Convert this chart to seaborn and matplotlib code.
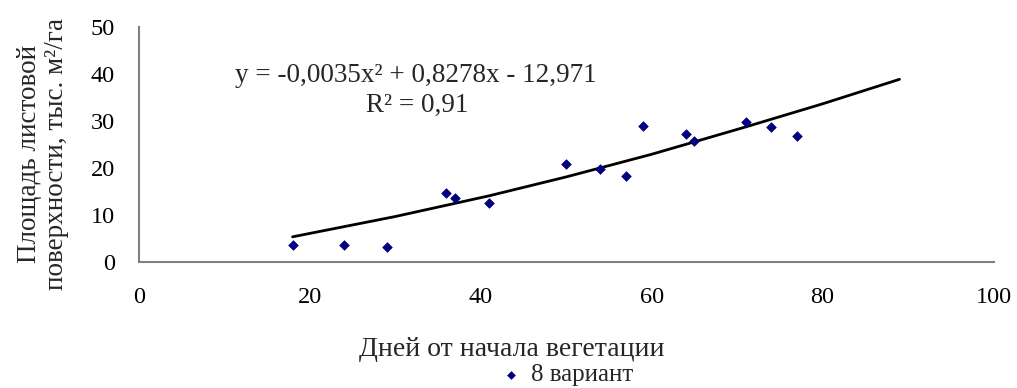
import matplotlib
matplotlib.use("Agg")
import matplotlib.pyplot as plt
import seaborn as sns
import pandas as pd

# Observations: days since start of vegetation vs leaf area
days = [18, 24, 29, 36, 37, 41, 50, 54, 57, 59, 64, 65, 71, 74, 77]
leaf_area = [3.7, 3.7, 3.3, 14.6, 13.6, 12.5, 20.8, 19.8, 18.2, 29.0, 27.3, 25.8, 29.8, 28.7, 26.7]

# Trend line as drawn on the chart
trend_days = [18, 30, 41, 50, 60, 71, 80, 89]
trend_area = [5.4, 9.7, 14.1, 18.1, 22.9, 28.7, 33.6, 38.8]

x_ticks = [0, 20, 40, 60, 80, 100]
y_ticks = [0, 10, 20, 30, 40, 50]

equation = "y = -0,0035x² + 0,8278x - 12,971"
r_squared = "R² = 0,91"
series_name = "8 вариант"

sns.set_theme(style="white")
plt.rcParams["font.family"] = ["Liberation Serif", "DejaVu Serif"]

points = pd.DataFrame({"days": days, "area": leaf_area})
trend = pd.DataFrame({"days": trend_days, "area": trend_area})

fig = plt.figure(figsize=(10.17, 3.88), dpi=100)
ax = fig.add_axes([0.1364, 0.324, 0.8405, 0.6077])

sns.lineplot(data=trend, x="days", y="area", ax=ax, color="black",
             linewidth=2.0, sort=False, estimator=None, legend=False)
sns.scatterplot(data=points, x="days", y="area", ax=ax, marker="D", s=24,
                color="#000080", edgecolor="#000080", linewidth=0.5,
                label=series_name, zorder=3)

ax.set_xlim(0, 100)
ax.set_ylim(0, 50)
ax.set_xticks(x_ticks)
ax.set_yticks(y_ticks)
ax.tick_params(axis="both", direction="out", length=6, width=1.2,
               color="#7f7f7f", labelsize=17.5, labelcolor="black")
ax.tick_params(axis="x", pad=12)
ax.tick_params(axis="y", pad=11)
for side in ("top", "right"):
    ax.spines[side].set_visible(False)
for side in ("left", "bottom"):
    ax.spines[side].set_color("#7f7f7f")
    ax.spines[side].set_linewidth(1.5)
ax.set_xlabel("")
ax.set_ylabel("")

ax.text(32.4, 39.6, equation, ha="center", va="center", fontsize=19.5)
ax.text(32.6, 33.3, r_squared, ha="center", va="center", fontsize=19.5)

fig.text(512 / 1017, 1 - 350 / 388, "Дней от начала вегетации",
         ha="center", va="center", fontsize=20)
fig.text(43 / 1017, 1 - 154 / 388, "Площадь листовой\nповерхности, тыс. м²/га",
         ha="center", va="center", rotation=90, fontsize=19.5, linespacing=1.1)

ax.legend(loc="center", bbox_to_anchor=(566 / 1017, 1 - 375 / 388),
          bbox_transform=fig.transFigure, frameon=False, fontsize=18,
          handlelength=1.0, handletextpad=0.3, markerscale=0.8, borderpad=0)

fig.savefig("out.png", dpi=100, facecolor="white")
